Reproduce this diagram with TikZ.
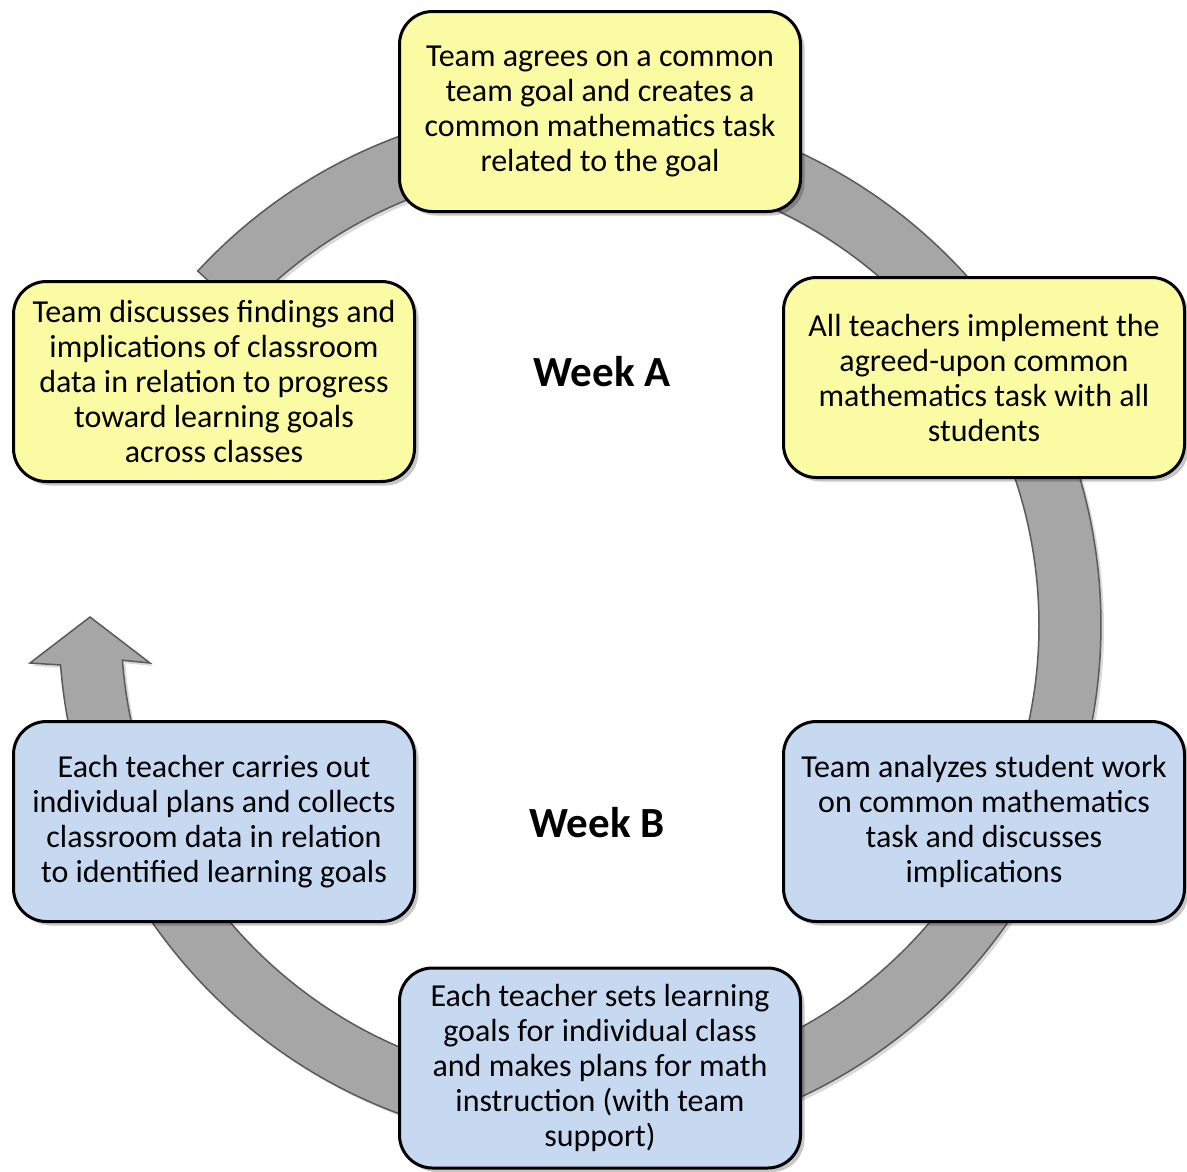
\documentclass[tikz,border=0pt]{standalone}
\usepackage{fontspec}
\setmainfont{Carlito}
\usetikzlibrary{shadows}
\definecolor{boxyellow}{RGB}{251,251,164}
\definecolor{boxblue}{RGB}{198,217,240}
\definecolor{ringfill}{RGB}{166,166,166}
\definecolor{ringline}{RGB}{90,90,90}
\tikzset{
  stagebox/.style={draw=black, line width=3pt, rounded corners=33pt,
    minimum width=401pt, minimum height=200pt, inner sep=0pt, align=center,
    font=\fontsize{32}{35}\selectfont,
    drop shadow={shadow xshift=4pt, shadow yshift=-4pt, opacity=0.22, fill=black}},
  yellowbox/.style={stagebox, fill=boxyellow},
  bluebox/.style={stagebox, fill=boxblue},
  ringband/.style={fill=ringfill, draw=ringline, line width=1.5pt, line join=miter,
    drop shadow={shadow xshift=3pt, shadow yshift=-3pt, opacity=0.15, fill=black}},
  weeklabel/.style={font=\fontsize{43}{46}\selectfont\bfseries, inner sep=0pt}
}
\begin{document}
\begin{tikzpicture}[x=1pt, y=-1pt]
\useasboundingbox[fill=white] (0,0) rectangle (1187,1171);

% ring with arrow head
\begin{scope}[shift={(580,625)}]
  \coordinate (ringstart) at (222.8:521);
  \coordinate (headleft) at (-550,38);
  \coordinate (headtip) at (-490,-8);
  \coordinate (headright) at (-430,38);
  \draw[ringband] (ringstart) arc[start angle=222.8, end angle=535.6, radius=521]
    -- (headleft) -- (headtip) -- (headright)
    -- (535.6:459) arc[start angle=535.6, end angle=222.8, radius=459] -- cycle;
\end{scope}

\node[yellowbox] (goal) at (600,111.5)
  {Team agrees on a common\\team goal and creates a\\common mathematics task\\related to the goal};
\node[yellowbox] (implement) at (984,377.5)
  {All teachers implement the\\agreed-upon common\\mathematics task with all\\students};
\node[yellowbox] (discuss) at (214,381.5)
  {Team discusses findings and\\implications of classroom\\data in relation to progress\\toward learning goals\\across classes};
\node[bluebox] (analyze) at (984,821.5)
  {Team analyzes student work\\on common mathematics\\task and discusses\\implications};
\node[bluebox] (carry) at (214,821.5)
  {Each teacher carries out\\individual plans and collects\\classroom data in relation\\to identified learning goals};
\node[bluebox] (plans) at (600,1068)
  {Each teacher sets learning\\goals for individual class\\and makes plans for math\\instruction (with team\\support)};

\node[weeklabel] (weekA) at (602,372) {Week A};
\node[weeklabel] (weekB) at (597,823) {Week B};
\end{tikzpicture}
\end{document}
